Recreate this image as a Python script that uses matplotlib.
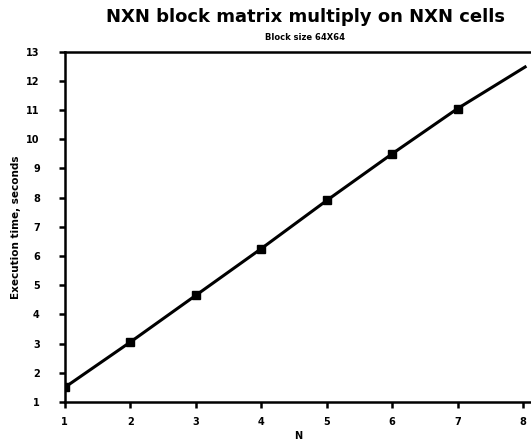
import matplotlib
matplotlib.use("Agg")
import matplotlib.pyplot as plt

# data
n_points = [1, 2, 3, 4, 5, 6, 7]
exec_time = [1.5, 3.05, 4.65, 6.25, 7.9, 9.5, 11.05]
line_n = [1, 2, 3, 4, 5, 6, 7, 8.05]
line_time = [1.5, 3.05, 4.65, 6.25, 7.9, 9.5, 11.05, 12.5]
x_ticks = [1, 2, 3, 4, 5, 6, 7, 8]
y_ticks = list(range(1, 14))

title = "NXN block matrix multiply on NXN cells"
subtitle = "Block size 64X64"
xlabel = "N"
ylabel = "Execution time, seconds"

plt.rcParams['font.family'] = ['DejaVu Sans']
fig = plt.figure(figsize=(5.31, 4.43), dpi=100)
ax = fig.add_axes([0.122, 0.0926, 0.878, 0.791])

ax.plot(line_n, line_time, color='black', lw=2.2, solid_capstyle='butt')
ax.plot(n_points, exec_time, linestyle='none', marker='s', color='black', markersize=5.5)

ax.set_xlim(1, 8.12)
ax.set_ylim(1, 13)
ax.set_xticks(x_ticks)
ax.set_yticks(y_ticks)
ax.tick_params(axis='both', direction='out', length=4, width=1.8, labelsize=7, color='black')
for lab in ax.get_xticklabels() + ax.get_yticklabels():
    lab.set_fontweight('bold')
ax.tick_params(axis='y', pad=14)
ax.tick_params(axis='x', pad=7)

for s in ['left', 'bottom', 'top']:
    ax.spines[s].set_linewidth(1.8)
ax.spines['right'].set_visible(False)

fig.text(0.575, 0.962, title, ha='center', va='center', fontsize=13, fontweight='bold')
fig.text(0.575, 0.916, subtitle, ha='center', va='center', fontsize=6, fontweight='bold')
ax.set_xlabel(xlabel, fontsize=7, fontweight='bold', labelpad=3)
ax.set_ylabel(ylabel, fontsize=7.5, fontweight='bold', labelpad=4)

fig.savefig("out.png", dpi=100)
